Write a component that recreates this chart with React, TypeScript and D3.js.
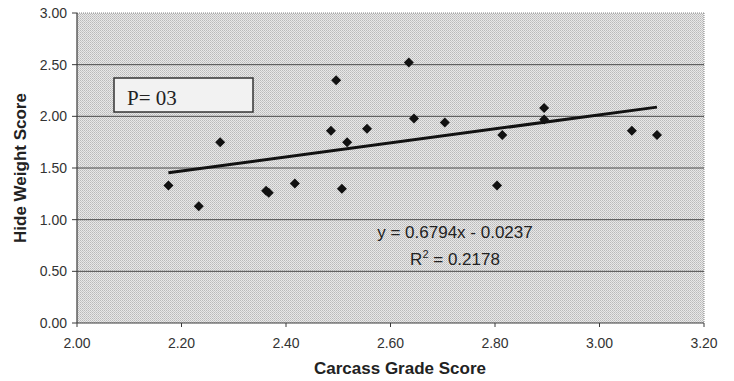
import React from "react";
import * as d3 from "d3";

const carcassGrade = [2.175, 2.233, 2.274, 2.362, 2.367, 2.417, 2.486, 2.496, 2.507, 2.517, 2.555, 2.635, 2.645, 2.704, 2.804, 2.814, 2.894, 2.894, 3.062, 3.11];
const hideWeight = [1.33, 1.13, 1.75, 1.28, 1.26, 1.35, 1.86, 2.35, 1.3, 1.75, 1.88, 2.52, 1.98, 1.94, 1.33, 1.82, 2.08, 1.97, 1.86, 1.82];
const xTicks = [2.0, 2.2, 2.4, 2.6, 2.8, 3.0, 3.2];
const yTicks = [0, 0.5, 1.0, 1.5, 2.0, 2.5, 3.0];
const slope = 0.6794;
const intercept = -0.0237;
const equationLabel = "y = 0.6794x - 0.0237";
const r2Value = "0.2178";
const pLabel = "P= 03";
const xTitle = "Carcass Grade Score";
const yTitle = "Hide Weight Score";

const W = 734;
const H = 381;
const left = 77;
const right = 704;
const top = 13;
const bottom = 323;

export default function App() {
  const x = d3.scaleLinear().domain([2.0, 3.2]).range([left, right]);
  const y = d3.scaleLinear().domain([0, 3]).range([bottom, top]);
  const xMin = d3.min(carcassGrade) as number;
  const xMax = d3.max(carcassGrade) as number;
  const line = d3
    .line<number>()
    .x((d) => x(d))
    .y((d) => y(slope * d + intercept));
  const sym = d3.symbol().type(d3.symbolSquare).size(50)() as string;
  const font = "Arial, 'Liberation Sans', sans-serif";

  return (
    <svg
      width={W}
      height={H}
      style={{ position: "absolute", left: 0, top: 0, background: "#ffffff" }}
    >
      <defs>
        <pattern id="halftone" width={2} height={2} patternUnits="userSpaceOnUse">
          <rect x={0} y={0} width={2} height={2} fill="#e8e8e8" />
          <rect x={0} y={0} width={1} height={1} fill="#bababa" />
          <rect x={1} y={1} width={1} height={1} fill="#c8c8c8" />
        </pattern>
      </defs>
      <rect x={left} y={top} width={right - left} height={bottom - top} fill="url(#halftone)" />
      <line x1={left} x2={right} y1={top} y2={top} stroke="#8a8a8a" strokeWidth={1} strokeDasharray="1 1" />
      <line x1={right} x2={right} y1={top} y2={bottom} stroke="#8a8a8a" strokeWidth={1} strokeDasharray="1 1" />
      {yTicks
        .filter((t) => t > 0 && t < 3)
        .map((t) => (
          <line key={"g" + t} x1={left} x2={right} y1={y(t)} y2={y(t)} stroke="#4a4a4a" strokeWidth={1} />
        ))}
      <line x1={left} x2={left} y1={top} y2={bottom} stroke="#3a3a3a" strokeWidth={1.2} />
      <line x1={left} x2={right} y1={bottom} y2={bottom} stroke="#3a3a3a" strokeWidth={1.2} />
      {yTicks.map((t) => (
        <g key={"y" + t}>
          <line x1={left - 5} x2={left} y1={y(t)} y2={y(t)} stroke="#3a3a3a" strokeWidth={1} />
          <text x={left - 10} y={y(t)} dy="0.35em" textAnchor="end" fontFamily={font} fontSize={14} fill="#333">
            {t.toFixed(2)}
          </text>
        </g>
      ))}
      {xTicks.map((t) => (
        <g key={"x" + t}>
          <line x1={x(t)} x2={x(t)} y1={bottom} y2={bottom + 4} stroke="#3a3a3a" strokeWidth={1} />
          <text x={x(t)} y={348} textAnchor="middle" fontFamily={font} fontSize={14} fill="#333">
            {t.toFixed(2)}
          </text>
        </g>
      ))}
      <rect x={114} y={78} width={139} height={34} fill="#f2f2f2" stroke="#333" strokeWidth={1.5} />
      <text x={127} y={105} fontFamily="'Liberation Serif', 'Times New Roman', serif" fontSize={21} fill="#222">
        {pLabel}
      </text>
      <path d={line([xMin, xMax]) as string} stroke="#111" strokeWidth={3} fill="none" />
      {carcassGrade.map((cx, i) => (
        <path
          key={"p" + i}
          d={sym}
          transform={`translate(${x(cx)},${y(hideWeight[i])}) rotate(45)`}
          fill="#111"
        />
      ))}
      <text x={455} y={238} textAnchor="middle" fontFamily={font} fontSize={17} fill="#222">
        {equationLabel}
      </text>
      <text x={455} y={265} textAnchor="middle" fontFamily={font} fontSize={17} fill="#222">
        R<tspan dy={-7} fontSize={11}>2</tspan>
        <tspan dy={7}> = {r2Value}</tspan>
      </text>
      <text x={400} y={374} textAnchor="middle" fontFamily={font} fontSize={17} fontWeight="bold" fill="#222">
        {xTitle}
      </text>
      <text
        transform={`translate(26,${(top + bottom) / 2}) rotate(-90)`}
        textAnchor="middle"
        fontFamily={font}
        fontSize={17}
        fontWeight="bold"
        fill="#222"
      >
        {yTitle}
      </text>
    </svg>
  );
}
